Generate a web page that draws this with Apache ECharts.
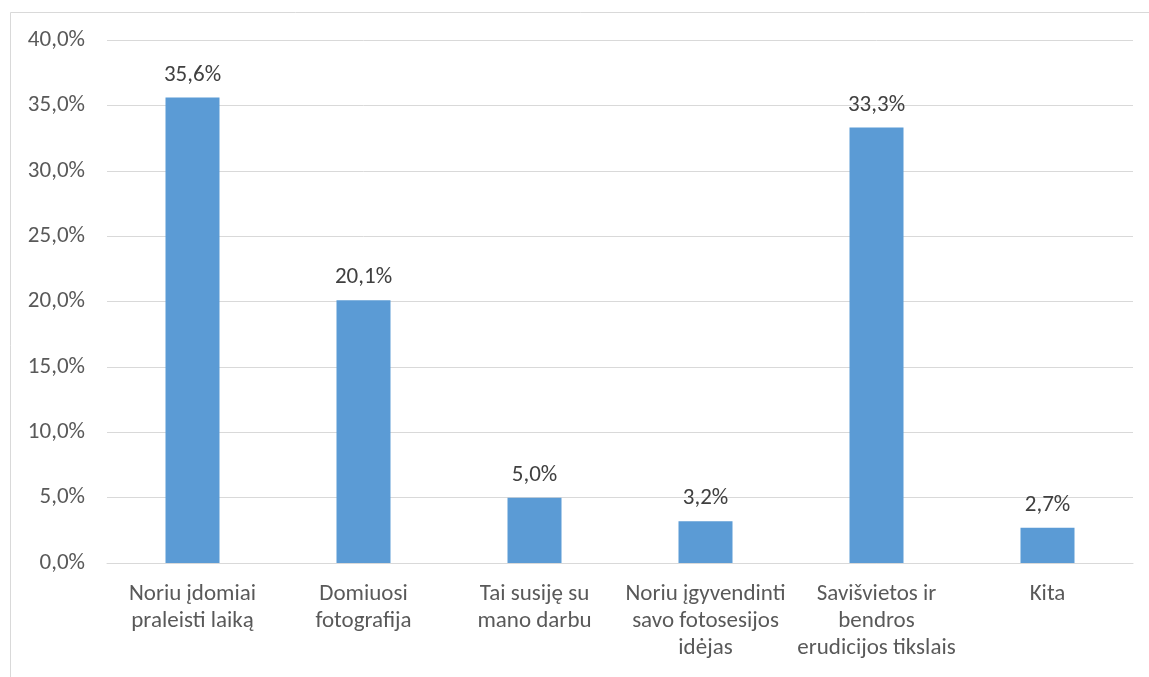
<!DOCTYPE html>
<html>
<head>
<meta charset="utf-8">
<script src="https://cdn.jsdelivr.net/npm/echarts@6/dist/echarts.min.js"></script>
<style>
  html, body { margin: 0; padding: 0; background: #ffffff; }
  #chart { width: 1149px; height: 677px; }
</style>
</head>
<body>
<div id="chart"></div>
<script>
// Survey answers: reasons for taking part
const categories = [
  'Noriu įdomiai\npraleisti laiką',
  'Domiuosi\nfotografija',
  'Tai susiję su\nmano darbu',
  'Noriu įgyvendinti\nsavo fotosesijos\nidėjas',
  'Savišvietos ir\nbendros\nerudicijos tikslais',
  'Kita'
];
const shares = [35.6, 20.1, 5.0, 3.2, 33.3, 2.7];
const yTicks = [0, 5, 10, 15, 20, 25, 30, 35, 40];

const FONT = 'Carlito, "Open Sans", sans-serif';
const fmt = v => v.toFixed(1).replace('.', ',') + '%';

const chart = echarts.init(document.getElementById('chart'), null, { renderer: 'canvas' });
chart.setOption({
  backgroundColor: '#ffffff',
  animation: false,
  graphic: [{
    type: 'rect',
    left: 8, top: 10,
    shape: { width: 2000, height: 2000 },
    style: { fill: 'none', stroke: '#d9d9d9', lineWidth: 1 },
    silent: true
  }],
  grid: { left: 107, right: 16, top: 40, bottom: 114 },
  xAxis: {
    type: 'category',
    data: categories,
    axisLine: { lineStyle: { color: '#d9d9d9', width: 1 } },
    axisTick: { show: false },
    axisLabel: {
      interval: 0,
      color: '#595959',
      fontFamily: FONT,
      fontSize: 23,
      lineHeight: 27,
      margin: 18
    }
  },
  yAxis: {
    type: 'value',
    min: yTicks[0],
    max: yTicks[yTicks.length - 1],
    interval: 5,
    axisLine: { show: false },
    axisTick: { show: false },
    splitLine: { lineStyle: { color: '#d9d9d9', width: 1 } },
    axisLabel: {
      color: '#595959',
      fontFamily: FONT,
      fontSize: 23,
      margin: 22,
      formatter: v => fmt(v)
    }
  },
  series: [{
    type: 'bar',
    data: shares,
    barWidth: 54,
    itemStyle: { color: '#5b9bd5' },
    label: {
      show: true,
      position: 'top',
      distance: 11,
      color: '#404040',
      fontFamily: FONT,
      fontSize: 23,
      formatter: p => fmt(p.value)
    }
  }]
});
</script>
</body>
</html>
